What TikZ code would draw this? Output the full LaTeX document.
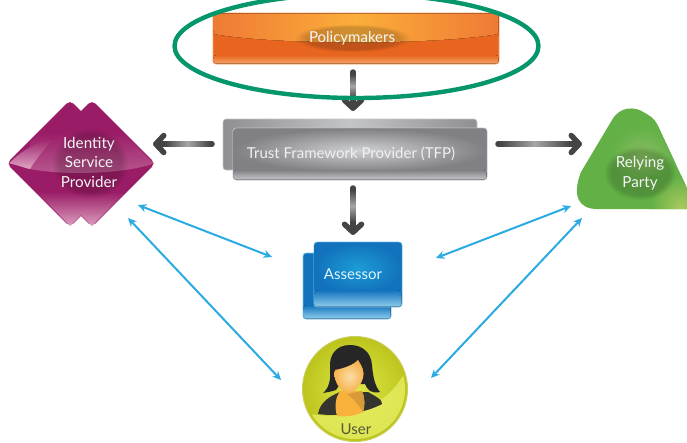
\documentclass[tikz,border=0pt]{standalone}
\usepackage{fontspec}
\setmainfont{Lato}
\usetikzlibrary{arrows.meta,fadings,calc,shapes.geometric}
\definecolor{blueline}{HTML}{2BABE2}
\definecolor{ovalgreen}{HTML}{05966B}
\definecolor{grayhead}{HTML}{444444}
\definecolor{graymid}{HTML}{A6A6A8}
\definecolor{magenta1}{HTML}{9A1C66}
\definecolor{magenta2}{HTML}{B95A90}
\definecolor{magenta3}{HTML}{DFA3C3}
\definecolor{green1}{HTML}{62B046}
\definecolor{green2}{HTML}{86BD60}
\definecolor{green3}{HTML}{A9C95C}
\definecolor{orA}{HTML}{EF7A35}
\definecolor{orB}{HTML}{FBAE3A}
\definecolor{orC}{HTML}{E7651F}
\definecolor{orD}{HTML}{F6A266}
\definecolor{gyA}{HTML}{818185}
\definecolor{gyB}{HTML}{CFD0D3}
\definecolor{gyC}{HTML}{C4C5C8}
\definecolor{gyD}{HTML}{8F8F92}
\definecolor{blA}{HTML}{1272BC}
\definecolor{blB}{HTML}{1C9CD6}
\definecolor{blC}{HTML}{8CCCEC}
\definecolor{blD}{HTML}{7CC6EE}
\definecolor{ylA}{HTML}{E0E84A}
\definecolor{ylB}{HTML}{BCC41C}
\definecolor{ylC}{HTML}{E6EE62}
\definecolor{ylD}{HTML}{C8CF5A}
\definecolor{skA}{HTML}{FBDDA6}
\definecolor{skB}{HTML}{F6B14A}
\definecolor{skC}{HTML}{F8B23C}
\definecolor{skD}{HTML}{D99A3A}
\definecolor{hairc}{HTML}{262626}
\definecolor{jacket}{HTML}{33352E}
\definecolor{usertext}{HTML}{55573C}
\tikzset{
  x=1pt,y=-1pt,
  lbl/.style={text=white!93!gray,font=\fontsize{15}{17}\selectfont,align=center,inner sep=0pt},
  bluearrow/.style={draw=blueline,line width=2,{Stealth[length=8.5,width=8]}-{Stealth[length=8.5,width=8]}},
  grayarrow/.style={draw=grayhead,line width=5.5,line cap=round,-{Straight Barb[length=8,width=17,round]}},
  shaftH/.style={left color=grayhead,right color=grayhead,middle color=graymid},
  shaftV/.style={top color=grayhead,bottom color=grayhead,middle color=graymid},
  boxshape/.style={rectangle,rounded corners=3,inner sep=0pt,draw=#1,line width=.8},
  glow/.style={fill=black,opacity=.17,path fading=circle with fuzzy edge 20 percent},
  ispshape/.style={diamond,aspect=1,minimum size=127,inner sep=0pt,rounded corners=5,fill=magenta1},
}
\begin{document}
\begin{tikzpicture}
\useasboundingbox (0,0) rectangle (687,442);
\clip (0,0) rectangle (687,442);
\fill[white] (0,0) rectangle (687,442);

% Policymakers
\node[boxshape=orD,minimum width=286,minimum height=51,fill=orC] (pm) at (356,38.5) {};
\fill[rounded corners=3,left color=orA,right color=orA,middle color=orB]
  (213.5,13.5) -- (498.5,13.5) -- (498.5,33) -- (498.5,34) .. controls (430,45) and (280,45) .. (213.5,34) -- cycle;
\fill[rounded corners=3,top color=orC,bottom color=orD] (213.5,55) rectangle (498.5,63.5);
\fill[glow] (295,24) rectangle (410,52);
\node[lbl] (pmt) at (352,38) {Policymakers};

% TFP
\node[boxshape=gyC,minimum width=254,minimum height=51,
  left color=gyD,right color=gyD,middle color=gyC] (tfpb) at (350,144.5) {};
\node[boxshape=gyC,minimum width=254,minimum height=52,fill=gyA] (tfp) at (360,154) {};
\shade[inner color=gyB,outer color=gyA,rounded corners=3] (233.5,128.5) rectangle (486.5,172);
\fill[rounded corners=3,top color=gyA,bottom color=gyC] (233.5,170) rectangle (486.5,179.5);
\node[lbl,text=white!88!gray] (tfpt) at (351,154) {Trust Framework Provider (TFP)};

% Identity Service Provider
\node[ispshape] (ispa) at (70,163.5) {};
\node[ispshape] (ispb) at (92,163.5) {};
\begin{scope}
\clip (9,163.5) -- (70,102) -- (81,113) -- (92,102) -- (154,163.5) -- (92,226) -- (81,215) -- (70,226) -- cycle;
\shade[top color=magenta1,bottom color=magenta3] (0,192) rectangle (160,227);
\shade[top color=magenta1,bottom color=magenta2] (30,132)
  -- (130,132) -- (154,163.5) .. controls (120,175) and (60,175) .. (30,169) -- cycle;
\shade[top color=magenta1,bottom color=magenta3] (9,163.5) .. controls (15,164) and (24,168) .. (30,169)
  .. controls (38,156) and (46,147) .. (55,137) .. controls (35,142) and (20,152) .. (9,163.5) -- cycle;
\end{scope}
\fill[glow] (52,128) rectangle (128,198);
\node[lbl,font=\fontsize{15.2}{19.5}\selectfont] (ispt) at (89,162) {Identity\\Service\\Provider};

% Relying Party
\fill[green1] (597,209) .. controls (578,209) and (572,195) .. (581,172) -- (612,120)
  .. controls (620,106) and (635,106) .. (645,113) .. controls (650,116) and (654,118) .. (657,124)
  -- (687,188) -- (687,209) -- cycle;
\begin{scope}
\clip (597,209) .. controls (578,209) and (572,195) .. (581,172) -- (612,120)
  .. controls (620,106) and (635,106) .. (645,113) .. controls (650,116) and (654,118) .. (657,124)
  -- (687,188) -- (687,209) -- cycle;
\shade[inner color=green2,outer color=green1] (610,125) rectangle (675,185);
\shade[inner color=green3,outer color=green1] (650,175) rectangle (712,240);
\end{scope}
\fill[glow] (604,146) rectangle (676,200);
\node[lbl,font=\fontsize{15.2}{20.5}\selectfont] (rpt) at (640,173) {Relying\\Party};

% Assessor
\node[boxshape=blD,minimum width=88,minimum height=66,fill=blA] (asb) at (347,286) {};
\fill[rounded corners=3,top color=blA,bottom color=blC] (303.5,305) rectangle (390.5,318.5);
\node[boxshape=blD,minimum width=88,minimum height=65,fill=blA] (as) at (358,274.5) {};
\shade[rounded corners=3,inner color=blB,outer color=blA] (314.5,242.5) rectangle (401.5,293);
\fill[rounded corners=3,top color=blA,bottom color=blC] (314.5,290) rectangle (401.5,306.5);
\node[lbl,text=white!88!cyan] (ast) at (353,274) {Assessor};

% User
\node[circle,minimum size=105,inner sep=0pt,draw=ylD,line width=1,
  inner color=ylA,outer color=ylB] (usr) at (355,389) {};
\begin{scope}
\clip (355,389) circle (50);
\fill[ylC,opacity=.8] (310,414) .. controls (345,420) and (385,410) .. (405,372) -- (415,445) -- (300,445) -- cycle;
\end{scope}
% jacket
\fill[jacket] (318,414) .. controls (320,402) and (330,396) .. (340,392) -- (368,392)
  .. controls (375,396) and (383,400) .. (382,404) .. controls (365,413) and (340,417) .. (318,414) -- cycle;
% chest
\fill[skC] (340,391) -- (362,391) .. controls (365,398) and (365,406) .. (363,412) .. controls (355,416) and (345,417) .. (337,416) .. controls (334,405) and (336,397) .. (340,391) -- cycle;
\fill[skD] (347,394) -- (362,391) .. controls (365,398) and (365,406) .. (363,412) .. controls (358,404) and (353,398) .. (347,394) -- cycle;
% hair
\fill[hairc] (350,345) .. controls (336,345) and (329,355) .. (330,368)
  .. controls (331,380) and (329,388) .. (323,393) .. controls (329,392) and (333,391) .. (336,390)
  -- (340,384) -- (365,384) .. controls (367,390) and (372,394) .. (380,392) .. controls (375,386) and (373,377) .. (372,365)
  .. controls (371,352) and (362,345) .. (350,345) -- cycle;
% face
\shade[inner color=skA,outer color=skB] (335,370) .. controls (345,368) and (353,365) .. (358,360)
  .. controls (362,366) and (365,372) .. (363,378) .. controls (360,388) and (353,393) .. (348,393)
  .. controls (342,392) and (337,386) .. (335,379) .. controls (334,376) and (334,373) .. (335,370) -- cycle;
\node[lbl,text=usertext,font=\fontsize{15}{15}\selectfont] (usrt) at (356,429) {User};

% free ends of connectors
\coordinate (pma) at (353,72);   \coordinate (tfpa) at (353,111);
\coordinate (tfpl) at (212,144); \coordinate (ispr) at (153,144);
\coordinate (tfpr) at (498,144); \coordinate (rpl) at (582,144);
\coordinate (tfpd) at (353,188); \coordinate (asu) at (353,235);
\coordinate (ispa1) at (138,205); \coordinate (asl) at (272,257);
\coordinate (ispu1) at (128,218); \coordinate (usl) at (281,380);
\coordinate (asr) at (436,258);   \coordinate (rpa1) at (571,206);
\coordinate (usrr) at (431,378);  \coordinate (rpu1) at (582,218);

% gray arrows
\draw[grayarrow] (pma) -- (tfpa);
\shade[shaftV] (350.2,74) rectangle (355.8,98);
\draw[grayarrow] (tfpl) -- (ispr);
\shade[shaftH] (165,141.2) rectangle (210,146.8);
\draw[grayarrow] (tfpr) -- (rpl);
\shade[shaftH] (500,141.2) rectangle (570,146.8);
\draw[grayarrow] (tfpd) -- (asu);
\shade[shaftV] (350.2,190) rectangle (355.8,222);

% oval over the top arrow
\draw[ovalgreen,line width=4.4] (356.5,46) ellipse [x radius=182,y radius=52];

% blue arrows
\draw[bluearrow] (ispa1) -- (asl);
\draw[bluearrow] (ispu1) -- (usl);
\draw[bluearrow] (asr) -- (rpa1);
\draw[bluearrow] (usrr) -- (rpu1);
\end{tikzpicture}
\end{document}
